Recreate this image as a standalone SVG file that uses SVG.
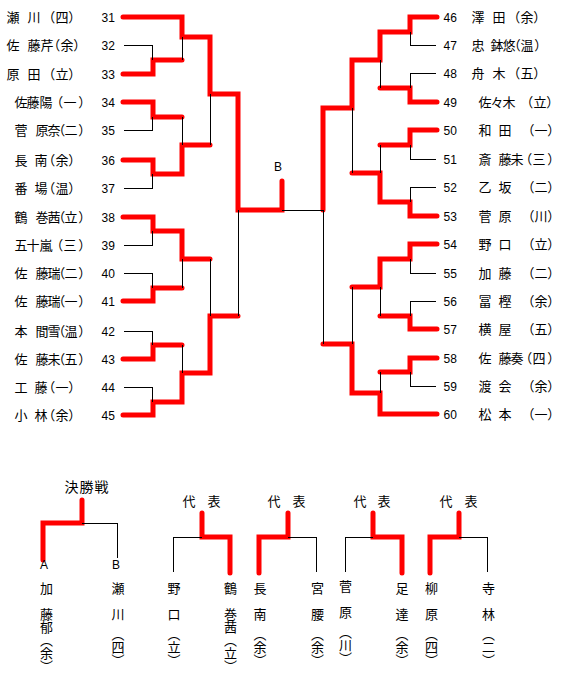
<svg xmlns="http://www.w3.org/2000/svg" width="567" height="680" viewBox="0 0 567 680">
<style>
.n{font-family:"Noto Sans CJK JP","Noto Sans CJK SC",sans-serif;font-size:13px;fill:#000}
.num{font-family:"Liberation Sans",Arial,sans-serif;font-size:12px;fill:#000}
.v{font-family:"Noto Sans CJK JP","Noto Sans CJK SC",sans-serif;font-size:13px;fill:#000;writing-mode:vertical-rl}
.r{stroke:#f00;stroke-width:5;fill:none;stroke-linecap:round}
.k{stroke:#000;stroke-width:1;fill:none;shape-rendering:crispEdges}
</style>
<rect width="567" height="680" fill="#fff"/>
<g id="connectors">
<g class="r">
<path d="M123,17 H182 V37 H210 V94 H238 V210 H282 V181"/>
<path d="M123,74 H153 V60 H182"/>
<path d="M123,102 H153 V117 H182"/>
<path d="M123,160 H153 V174 H182 V145 H210"/>
<path d="M123,217 H153 V231 H182 V259 H210"/>
<path d="M123,301 H153 V288 H182"/>
<path d="M123,359 H153 V345 H182"/>
<path d="M123,415 H153 V402 H182 V373 H210 V316 H238"/>
<path d="M437,17 H410 V32 H380 V60 H352 V108 H323 V210"/>
<path d="M437,102 H410 V88 H380"/>
<path d="M437,130 H410 V145 H380"/>
<path d="M437,216 H410 V202 H380 V173 H352"/>
<path d="M437,244 H410 V259 H380 V287 H352"/>
<path d="M437,329 H410 V316 H380"/>
<path d="M437,358 H410 V372 H380"/>
<path d="M437,414 H380 V393 H352 V344 H323"/>
<path d="M82,500 V523 H43 V560"/>
<path d="M202,513 V537 H230 V573"/>
<path d="M288,513 V537 H259 V573"/>
<path d="M373,513 V537 H402 V573"/>
<path d="M459,513 V537 H430 V573"/>
</g>
<g class="k">
<path d="M124,45 H152 V60"/>
<path d="M124,130 H152 V117"/>
<path d="M124,188 H152 V174"/>
<path d="M182,37 V60"/>
<path d="M182,117 V145"/>
<path d="M210,94 V145"/>
<path d="M124,245 H152 V231"/>
<path d="M124,273 H152 V288"/>
<path d="M182,259 V288"/>
<path d="M210,259 V316"/>
<path d="M124,331 H152 V345"/>
<path d="M124,387 H152 V402"/>
<path d="M182,345 V373"/>
<path d="M238,210 V316"/>
<path d="M282,210 H323 V344"/>
<path d="M436,45 H410 V32"/>
<path d="M436,73 H410 V88"/>
<path d="M380,60 V88"/>
<path d="M436,159 H410 V145"/>
<path d="M436,187 H410 V202"/>
<path d="M380,145 V173"/>
<path d="M352,108 V173"/>
<path d="M436,273 H410 V259"/>
<path d="M436,301 H410 V316"/>
<path d="M380,287 V316"/>
<path d="M436,386 H410 V372"/>
<path d="M380,372 V393"/>
<path d="M352,287 V344"/>
<path d="M82,523 H117 V558"/>
<path d="M202,537 H173 V572"/>
<path d="M288,537 H316 V572"/>
<path d="M373,537 H345 V572"/>
<path d="M459,537 H487 V572"/>
</g>
</g>
<g id="p31"><text class="n" x="6.5 20 27.5 40 42.2 55.5 68.2" y="22">瀬 川 （四）</text><text class="num" x="101.5" y="21.5">31</text></g>
<g id="p32"><text class="n" x="6.5 20 27.5 40.5 47.2 60.5 73.2" y="50">佐 藤芹（余）</text><text class="num" x="101.5" y="49.5">32</text></g>
<g id="p33"><text class="n" x="6.5 20 27.5 40 42.2 55.5 68.2" y="79">原 田 （立）</text><text class="num" x="101.5" y="78.5">33</text></g>
<g id="p34"><text class="n" x="14.5 26.5 39.5 52 50.2 63.5 78.2" y="107">佐藤陽 （一）</text><text class="num" x="101.5" y="106.5">34</text></g>
<g id="p35"><text class="n" x="14.5 28 35.5 47.5 52.2 64.5 78.2" y="135">菅 原奈（二）</text><text class="num" x="101.5" y="134.5">35</text></g>
<g id="p36"><text class="n" x="14.5 25 34.5 45 42.2 55.5 68.2" y="165">長 南 （余）</text><text class="num" x="101.5" y="164.5">36</text></g>
<g id="p37"><text class="n" x="14.5 25 34.5 45 42.2 55.5 68.2" y="193">番 場 （温）</text><text class="num" x="101.5" y="192.5">37</text></g>
<g id="p38"><text class="n" x="14.5 28 35.5 47.5 52.2 64.5 78.2" y="222">鶴 巻茜（立）</text><text class="num" x="101.5" y="221.5">38</text></g>
<g id="p39"><text class="n" x="14.5 26.5 39.5 52 50.2 63.5 78.2" y="250">五十嵐 （三）</text><text class="num" x="101.5" y="249.5">39</text></g>
<g id="p40"><text class="n" x="14.5 28 35.5 47.5 52.2 64.5 78.2" y="278">佐 藤瑞（二）</text><text class="num" x="101.5" y="277.5">40</text></g>
<g id="p41"><text class="n" x="14.5 28 35.5 47.5 52.2 64.5 78.2" y="306">佐 藤瑞（一）</text><text class="num" x="101.5" y="305.5">41</text></g>
<g id="p42"><text class="n" x="14.5 28 35.5 47.5 52.2 64.5 78.2" y="336">本 間雪（温）</text><text class="num" x="101.5" y="335.5">42</text></g>
<g id="p43"><text class="n" x="14.5 28 35.5 47.5 52.2 64.5 78.2" y="364">佐 藤未（五）</text><text class="num" x="101.5" y="363.5">43</text></g>
<g id="p44"><text class="n" x="14.5 25 34.5 45 42.2 55.5 68.2" y="392">工 藤 （一）</text><text class="num" x="101.5" y="391.5">44</text></g>
<g id="p45"><text class="n" x="14.5 25 34.5 45 42.2 55.5 68.2" y="420">小 林 （余）</text><text class="num" x="101.5" y="419.5">45</text></g>
<g id="p46"><text class="num" x="443.5" y="21.5">46</text><text class="n" x="471.5 483 492.5 505 507.2 520.5 533.2" y="22">澤 田 （余）</text></g>
<g id="p47"><text class="num" x="443.5" y="49.5">47</text><text class="n" x="471.5 483 490.5 502.5 507.7 520.5 534.2" y="50">忠 鉢悠（温）</text></g>
<g id="p48"><text class="num" x="443.5" y="77.5">48</text><text class="n" x="471.5 483 492.5 505 507.2 520.5 533.2" y="78">舟 木 （五）</text></g>
<g id="p49"><text class="num" x="443.5" y="106.5">49</text><text class="n" x="478.5 490.5 502.5 515 520.2 533.5 546.2" y="107">佐々木 （立）</text></g>
<g id="p50"><text class="num" x="443.5" y="134.5">50</text><text class="n" x="478.5 490 498.5 510 521.5 534.5 547.2" y="135">和 田 （一）</text></g>
<g id="p51"><text class="num" x="443.5" y="163.5">51</text><text class="n" x="478.5 490 498.5 510.5 519.2 532.5 547.2" y="164">斎 藤未（三）</text></g>
<g id="p52"><text class="num" x="443.5" y="191.5">52</text><text class="n" x="478.5 490 498.5 510 521.5 534.5 547.2" y="192">乙 坂 （二）</text></g>
<g id="p53"><text class="num" x="443.5" y="220.5">53</text><text class="n" x="478.5 490 498.5 510 521.5 534.5 547.2" y="221">菅 原 （川）</text></g>
<g id="p54"><text class="num" x="443.5" y="248.5">54</text><text class="n" x="478.5 490 498.5 510 521.5 534.5 547.2" y="249">野 口 （立）</text></g>
<g id="p55"><text class="num" x="443.5" y="277.5">55</text><text class="n" x="478.5 490 498.5 510 521.5 534.5 547.2" y="278">加 藤 （二）</text></g>
<g id="p56"><text class="num" x="443.5" y="305.5">56</text><text class="n" x="478.5 490 498.5 510 521.5 534.5 547.2" y="306">冨 樫 （余）</text></g>
<g id="p57"><text class="num" x="443.5" y="333.5">57</text><text class="n" x="478.5 490 498.5 510 521.5 534.5 547.2" y="334">横 屋 （五）</text></g>
<g id="p58"><text class="num" x="443.5" y="362.5">58</text><text class="n" x="478.5 490 498.5 510.5 519.2 532.5 547.2" y="363">佐 藤奏（四）</text></g>
<g id="p59"><text class="num" x="443.5" y="390.5">59</text><text class="n" x="478.5 490 498.5 510 521.5 534.5 547.2" y="391">渡 会 （余）</text></g>
<g id="p60"><text class="num" x="443.5" y="418.5">60</text><text class="n" x="478.5 490 498.5 510 521.5 534.5 547.2" y="419">松 本 （一）</text></g>
<g id="semifinal-b"><text class="num" x="274" y="171">B</text></g>
<g id="final-title"><text class="n" style="font-size:14px" x="64.5 79.5 94.5" y="492">決勝戦</text></g>
<g id="final-a"><text class="num" x="40" y="569">A</text><text class="v" x="46.5" y="582">加　藤郁（余）</text></g>
<g id="final-b"><text class="num" x="112" y="569">B</text><text class="v" x="118" y="582">瀬　川　（四）</text></g>
<g id="rep1-title"><text class="n" x="182.5 195 207.5" y="506">代 表</text></g>
<g id="rep1-a"><text class="v" x="174" y="582">野　口　（立）</text></g>
<g id="rep1-b"><text class="v" x="230.5" y="582">鶴　巻茜（立）</text></g>
<g id="rep2-title"><text class="n" x="267.5 280 292.5" y="506">代 表</text></g>
<g id="rep2-a"><text class="v" x="260" y="582">長　南　（余）</text></g>
<g id="rep2-b"><text class="v" x="317.5" y="582">宮　腰　（余）</text></g>
<g id="rep3-title"><text class="n" x="353.5 366 377.5" y="506">代 表</text></g>
<g id="rep3-a"><text class="v" x="345.5" y="580">菅　原　（川）</text></g>
<g id="rep3-b"><text class="v" x="402" y="582">足　達　（余）</text></g>
<g id="rep4-title"><text class="n" x="439.5 452 464.5" y="506">代 表</text></g>
<g id="rep4-a"><text class="v" x="431.5" y="582">柳　原　（四）</text></g>
<g id="rep4-b"><text class="v" x="488.5" y="582">寺　林　（二）</text></g>
</svg>
